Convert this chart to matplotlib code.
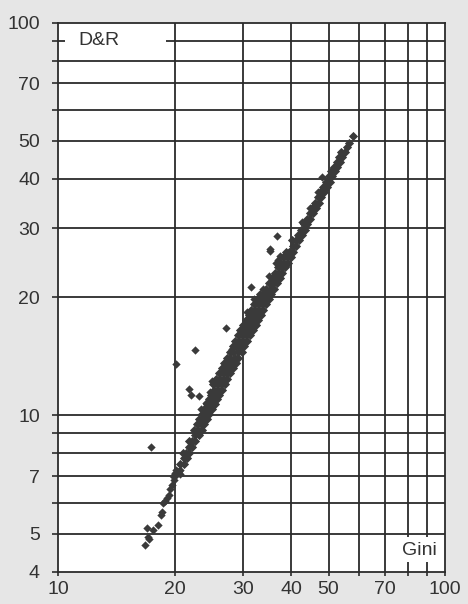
import matplotlib.pyplot as plt

plt.rcParams['font.family'] = ['Liberation Sans', 'DejaVu Sans']

# tail at the low end
tail_gini = [16.8, 17.1, 17.2, 17.0, 17.6, 18.1, 18.5, 18.6, 18.7, 18.9, 19.1, 19.3,
             19.5, 19.7, 19.9, 20.1, 20.3, 20.5, 20.6, 20.2, 20.7, 20.0, 19.8]
tail_dr = [4.68, 4.91, 4.85, 5.16, 5.10, 5.26, 5.57, 5.69, 5.97, 6.04, 6.15, 6.28,
           6.48, 6.64, 6.86, 6.99, 7.12, 7.20, 7.27, 7.25, 7.10, 7.15, 7.0]

# main band, read row by row (D&R level -> gini values)
band_rows = {
    7.5: [21.1, 20.7], 7.8: [21.5, 21.1], 8.0: [21.8, 21.4, 21.0],
    8.3: [22.2, 21.8], 8.6: [22.65, 22.2, 21.8], 8.9: [23.1, 22.6],
    9.2: [23.5, 23.0, 22.5], 9.5: [23.9, 23.4, 22.9], 9.8: [24.25, 23.7, 23.2],
    10.1: [24.6, 24.1, 23.6], 10.4: [25.0, 24.5, 23.9], 10.7: [25.4, 24.8, 24.2],
    11.0: [25.8, 25.2, 24.6], 11.3: [26.1, 25.5, 24.9], 11.6: [26.5, 25.9, 25.3],
    12.0: [27.0, 26.4, 25.8, 25.2], 12.4: [27.4, 26.8, 26.2, 25.6],
    12.8: [27.9, 27.3, 26.7, 26.1], 13.2: [28.4, 27.7, 27.1, 26.5],
    13.6: [28.8, 28.2, 27.5, 26.9], 14.0: [29.25, 28.6, 27.9, 27.3],
    14.5: [29.8, 29.1, 28.4, 27.8], 15.0: [30.3, 29.6, 28.9, 28.3],
    15.5: [30.8, 30.1, 29.4, 28.7], 16.0: [31.4, 30.6, 29.9, 29.2],
    16.5: [31.9, 31.1, 30.4, 29.6], 17.0: [32.4, 31.6, 30.8, 30.1],
    17.5: [32.9, 32.1, 31.3, 30.6], 18.0: [33.4, 32.6, 31.8, 31.1],
    18.6: [33.9, 33.1, 32.3, 31.5], 19.2: [34.5, 33.7, 32.9, 32.1],
    19.8: [35.1, 34.2, 33.4, 32.7], 20.4: [35.6, 34.8, 34.0, 33.2],
    21.0: [36.2, 35.4, 34.5], 21.7: [36.8, 36.0, 35.1], 22.4: [37.4, 36.6, 35.7],
    23.1: [38.0, 37.2, 36.3], 23.8: [38.6, 37.8, 37.0], 24.5: [39.2, 38.4, 37.5],
    25.3: [39.9, 39.0, 38.2], 26.1: [40.5, 39.6, 38.8], 27.0: [41.3, 40.4],
    27.9: [42.0, 41.1, 40.3], 28.8: [42.7, 41.8], 29.7: [43.4, 42.5],
    30.7: [44.1, 43.2], 31.7: [44.9, 44.0], 32.7: [45.6, 44.7], 33.7: [46.3, 45.4],
    34.8: [47.1, 46.1], 35.9: [47.9, 46.9], 37.0: [48.7, 47.6],
    38.2: [49.5, 48.5], 39.4: [50.3, 49.3], 40.6: [51.1, 50.1],
    41.8: [51.9, 50.8], 43.0: [52.6, 51.6], 44.3: [53.4, 52.5],
    45.6: [54.2, 53.2], 46.9: [55.1, 54.0], 48.3: [55.9], 49.5: [56.5],
    51.4: [57.9],
}

# scattered points above the band
out_gini = [17.4, 20.2, 22.6, 21.8, 22.1, 23.1, 25.0, 23.4, 24.1, 24.7, 28.2, 27.5,
            35.3, 37.0, 35.1, 31.5, 33.8, 32.1, 30.8, 27.2, 36.8, 35.3, 48.1, 47.0,
            44.8, 42.7, 36.5, 37.5]
out_dr = [8.3, 13.5, 14.7, 11.7, 11.3, 11.2, 12.2, 10.4, 10.75, 11.5, 14.8, 13.8,
          26.2, 24.8, 22.7, 21.2, 21.0, 19.8, 18.3, 16.7, 28.6, 26.6, 40.4, 37.0,
          33.7, 31.0, 24.5, 25.5]

x_grid = [20, 30, 40, 50, 60, 70, 80, 90]
y_grid = [5, 6, 7, 8, 9, 10, 20, 30, 40, 50, 60, 70, 80, 90]
x_labels = {10: '10', 20: '20', 30: '30', 40: '40', 50: '50', 70: '70', 100: '100'}
y_labels = {4: '4', 5: '5', 7: '7', 10: '10', 20: '20', 30: '30', 40: '40',
            50: '50', 70: '70', 100: '100'}

band_gini = []
band_dr = []
for lvl, gs in band_rows.items():
    for g in gs:
        band_gini.append(g)
        band_dr.append(lvl)

ink = '#2b2b2b'
fig = plt.figure(figsize=(4.68, 6.04), dpi=100, facecolor='#e6e6e6')
ax = fig.add_axes([0.124, 0.0535, 0.827, 0.909])
ax.set_facecolor('white')
ax.set_xscale('log')
ax.set_yscale('log')
ax.set_xlim(10, 100)
ax.set_ylim(4, 100)

# grid, with gaps where the D&R and Gini labels sit
for v in y_grid:
    if v == 90:
        ax.hlines(v, 10, 10.43, color=ink, lw=1.3, zorder=1)
        ax.hlines(v, 19.0, 100, color=ink, lw=1.3, zorder=1)
    else:
        ax.hlines(v, 10, 100, color=ink, lw=1.3, zorder=1)
for v in x_grid:
    if v in (80, 90):
        ax.vlines(v, 4, 4.23, color=ink, lw=1.3, zorder=1)
        ax.vlines(v, 4.9, 100, color=ink, lw=1.3, zorder=1)
    else:
        ax.vlines(v, 4, 100, color=ink, lw=1.3, zorder=1)

for s in ax.spines.values():
    s.set_color(ink)
    s.set_linewidth(1.3)

pts = '#3a3a3a'
ax.scatter(tail_gini, tail_dr, marker='D', s=18, color=pts, lw=0, zorder=3)
ax.scatter(band_gini, band_dr, marker='D', s=22, color=pts, lw=0, zorder=3)
ax.scatter(out_gini, out_dr, marker='D', s=18, color=pts, lw=0, zorder=3)

xt = [10, 20, 30, 40, 50, 60, 70, 80, 90, 100]
ax.set_xticks(xt)
ax.set_xticklabels([x_labels.get(t, '') for t in xt])
ax.set_xticks([], minor=True)
yt = [4, 5, 6, 7, 8, 9, 10, 20, 30, 40, 50, 60, 70, 80, 90, 100]
ax.set_yticks(yt)
ax.set_yticklabels([y_labels.get(t, '') for t in yt])
ax.set_yticks([], minor=True)
ax.tick_params(axis='x', length=3, width=1.2, color=ink, pad=4, labelsize=14, labelcolor='#333333')
ax.tick_params(axis='y', length=4, width=1.2, color=ink, pad=9, labelsize=14, labelcolor='#333333')

ax.text(11.27, 90, 'D&R', fontsize=14, color='#333333', va='center', ha='left')
ax.text(95.3, 4.52, 'Gini', fontsize=14, color='#333333', va='center', ha='right')

plt.savefig('out.png', dpi=100, facecolor=fig.get_facecolor())
